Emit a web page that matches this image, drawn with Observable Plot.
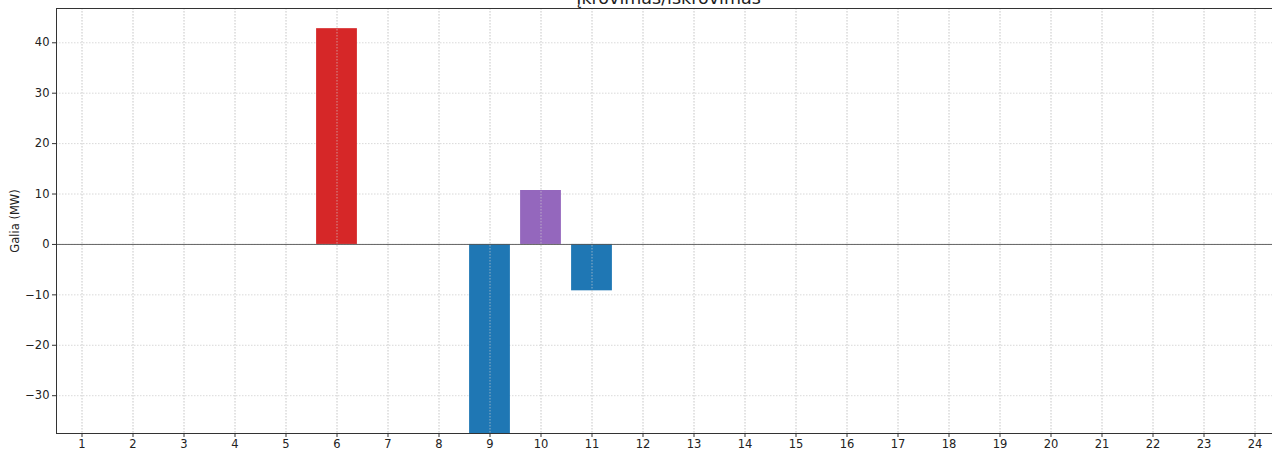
<!DOCTYPE html>
<html>
<head>
<meta charset="utf-8">
<script src="https://cdn.jsdelivr.net/npm/d3@7"></script>
<script src="https://cdn.jsdelivr.net/npm/@observablehq/plot@0.6"></script>
<style>
  html, body { margin: 0; padding: 0; background: white; overflow: hidden; width: 1272px; }
  #chart { width: 1272px; overflow: hidden; }
  #chart svg { display: block; overflow: hidden; font-family: "DejaVu Sans", sans-serif; max-width: none !important; }
</style>
</head>
<body>
<div id="chart"></div>
<script>
const title = "Įkrovimas/iškrovimas";
const yLabel = "Galia (MW)";
const hours = [1,2,3,4,5,6,7,8,9,10,11,12,13,14,15,16,17,18,19,20,21,22,23,24];
const values = [0,0,0,0,0,42.8,0,0,-39.5,10.7,-9.2,0,0,0,0,0,0,0,0,0,0,0,0,0];
const barColors = ["#1f77b4","#1f77b4","#1f77b4","#1f77b4","#1f77b4","#d62728","#1f77b4","#1f77b4","#1f77b4","#9467bd","#1f77b4","#1f77b4","#1f77b4","#1f77b4","#1f77b4","#1f77b4","#1f77b4","#1f77b4","#1f77b4","#1f77b4","#1f77b4","#1f77b4","#1f77b4","#1f77b4"];
const yTicks = [-30,-20,-10,0,10,20,30,40];
const xDomain = [0.5, 24.5];
const yDomain = [-37.5, 46.8];

const data = hours.map((h, i) => ({hour: h, value: values[i], color: barColors[i]})).filter(d => d.value !== 0);
const barHalf = 0.4;

const chart = Plot.plot({
  width: 1272,
  height: 450,
  marginTop: 8,
  marginBottom: 17,
  marginLeft: 56,
  marginRight: -8,
  style: {fontFamily: "DejaVu Sans, sans-serif", fontSize: "11.5px", color: "#222", background: "white", maxWidth: "none"},
  x: {type: "linear", domain: xDomain},
  y: {domain: yDomain},
  marks: [
    Plot.gridX(hours, {stroke: "#cfcfcf", strokeOpacity: 1, strokeDasharray: "1.5,1.5", strokeWidth: 0.8}),
    Plot.gridY(yTicks, {stroke: "#cfcfcf", strokeOpacity: 1, strokeDasharray: "1.5,1.5", strokeWidth: 0.8}),
    Plot.rectY(data, {x1: d => d.hour - barHalf, x2: d => d.hour + barHalf, y1: 0, y2: "value", fill: "color", clip: true}),
    Plot.gridX(hours, {stroke: "#cfcfcf", strokeOpacity: 0.8, strokeDasharray: "1.5,1.5", strokeWidth: 0.8}),
    Plot.ruleY([0], {stroke: "#555", strokeWidth: 0.9}),
    Plot.frame({stroke: "#333", strokeWidth: 1}),
    Plot.axisX(hours, {tickSize: 4, tickPadding: 2.5, fontSize: 11.5, label: null, stroke: "#333"}),
    Plot.axisY(yTicks, {tickSize: 4, tickPadding: 3, fontSize: 11.5, label: yLabel, labelAnchor: "center", labelArrow: "none", labelOffset: 46, stroke: "#333"}),
    Plot.text([title], {frameAnchor: "top", dy: -5, lineAnchor: "bottom", fontSize: 17.5, fill: "#222"})
  ]
});
document.getElementById("chart").appendChild(chart);
</script>
</body>
</html>
